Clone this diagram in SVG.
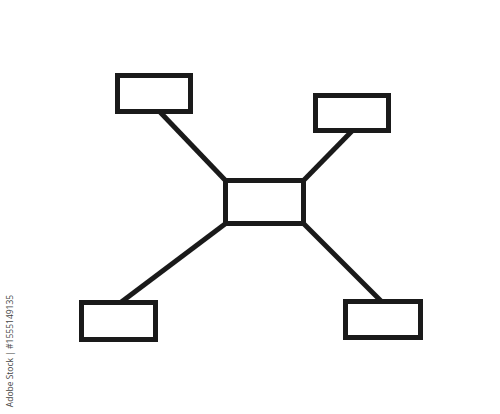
<svg xmlns="http://www.w3.org/2000/svg" width="500" height="414" viewBox="0 0 500 414">
<style>
.box{fill:#fff;stroke:#1a1a1a;stroke-width:5}
.edge{stroke:#1a1a1a;stroke-width:5;stroke-linecap:butt;fill:none}
.credit{font-family:"Open Sans","Liberation Sans",sans-serif;font-size:8.5px;fill:#444}
</style>
<rect width="500" height="414" fill="#fff"/>
<g id="connectors">
<line class="edge" x1="160" y1="112" x2="225" y2="180"/>
<line class="edge" x1="352" y1="131" x2="304" y2="180"/>
<line class="edge" x1="225" y1="224" x2="120" y2="303"/>
<line class="edge" x1="304" y1="224" x2="382" y2="302"/>
</g>
<g id="node-center"><rect class="box" x="225.5" y="180.5" width="78" height="43"/></g>
<g id="node-top-left"><rect class="box" x="117.5" y="75.5" width="73" height="36"/></g>
<g id="node-top-right"><rect class="box" x="315.5" y="95.5" width="73" height="35"/></g>
<g id="node-bottom-left"><rect class="box" x="81.5" y="302.5" width="74" height="37"/></g>
<g id="node-bottom-right"><rect class="box" x="345.5" y="301.5" width="75" height="36"/></g>
<text class="credit" transform="translate(13,351) rotate(-90)" text-anchor="middle">Adobe Stock | #1555149135</text>
</svg>
